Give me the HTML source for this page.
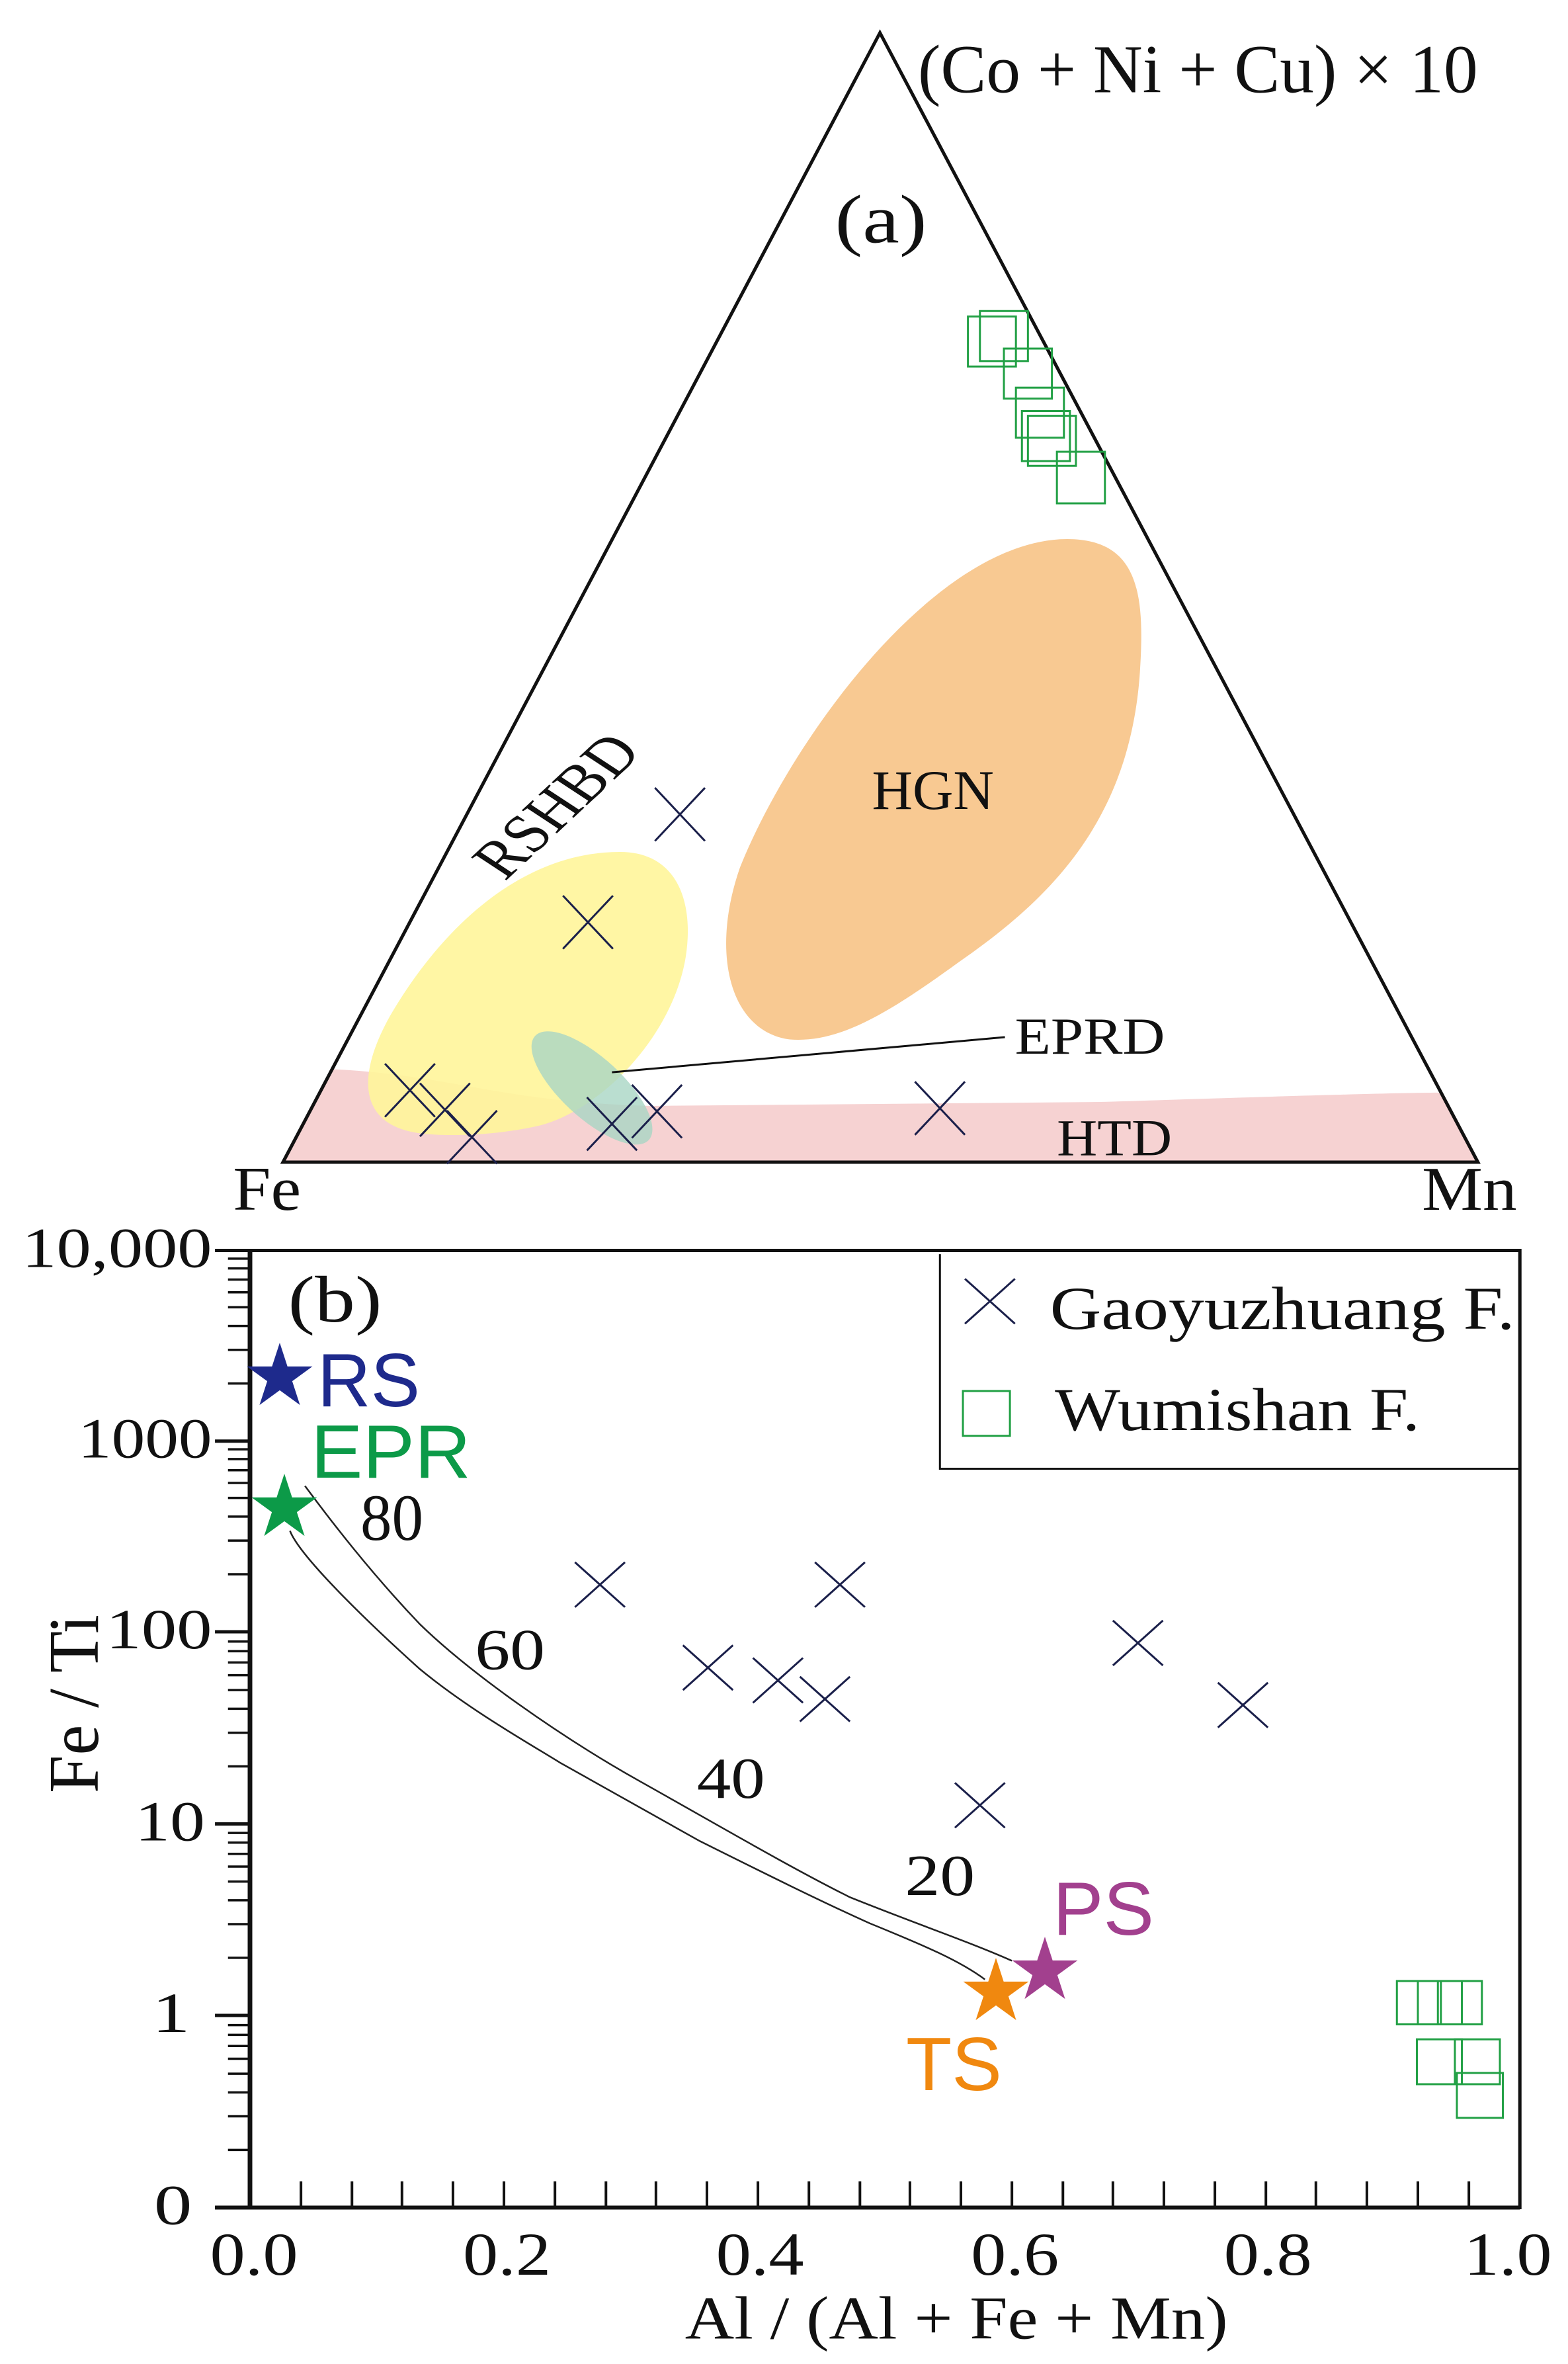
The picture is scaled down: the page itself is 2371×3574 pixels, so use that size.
<!DOCTYPE html>
<html><head><meta charset="utf-8"><style>
html,body{margin:0;padding:0;background:#fff}
svg{display:block}
text{font-family:"Liberation Serif",serif;fill:#111}
.s{font-family:"Liberation Sans",sans-serif}
</style></head><body>
<svg width="2371" height="3574" viewBox="0 0 2371 3574" xmlns="http://www.w3.org/2000/svg">
<defs>
<path id="star" d="M0,-52 L11.67,-16.07 L49.45,-16.07 L18.89,6.14 L30.56,42.07 L0,19.86 L-30.56,42.07 L-18.89,6.14 L-49.45,-16.07 L-11.67,-16.07Z"/>
</defs>
<rect width="2371" height="3574" fill="#fff"/>

<g transform="scale(1.512,1.1816)">
  <path d="M332,1368 C450,1375 500,1410 650,1415 L1100,1410 C1300,1402 1400,1398 1440,1398 L1478,1487 L283,1487 Z" fill="#f6d2d2"/>
  <path d="M790,1330 C730,1320 710,1220 740,1110 C790,950 930,700 1060,690 C1140,685 1145,760 1140,860 C1130,1050 1050,1150 960,1230 C890,1295 840,1335 790,1330 Z" fill="#f8c992"/>
  <path d="M420,1450 C360,1440 355,1380 390,1300 C440,1190 520,1090 620,1090 C680,1090 695,1160 685,1230 C670,1330 600,1420 540,1440 C500,1452 450,1455 420,1450 Z" fill="#fff59a" fill-opacity="0.9"/>
  <ellipse cx="592" cy="1392" rx="88" ry="34" transform="rotate(52 592 1392)" fill="#a9d6c4" fill-opacity="0.8"/>
  <path d="M880,42 L283,1487 L1478,1487 Z" fill="none" stroke="#111" stroke-width="5" vector-effect="non-scaling-stroke" stroke-linejoin="miter"/>
  <line x1="612" y1="1372" x2="1005" y2="1327" stroke="#111" stroke-width="3" vector-effect="non-scaling-stroke"/>
  <g fill="none" stroke="#22a045" stroke-width="3">
    <rect x="968" y="405" width="48" height="64" vector-effect="non-scaling-stroke"/>
    <rect x="980" y="398" width="48" height="64" vector-effect="non-scaling-stroke"/>
    <rect x="1004" y="446" width="48" height="64" vector-effect="non-scaling-stroke"/>
    <rect x="1016" y="496" width="48" height="64" vector-effect="non-scaling-stroke"/>
    <rect x="1022" y="526" width="48" height="64" vector-effect="non-scaling-stroke"/>
    <rect x="1028" y="532" width="48" height="64" vector-effect="non-scaling-stroke"/>
    <rect x="1057" y="578" width="48" height="66" vector-effect="non-scaling-stroke"/>
  </g>
  <path stroke="#1a1f4a" stroke-width="3" fill="none" vector-effect="non-scaling-stroke" d="M655,1008 L705,1076 M705,1008 L655,1076
      M563,1146 L613,1214 M613,1146 L563,1214
      M385,1361 L435,1429 M435,1361 L385,1429
      M420,1386 L470,1454 M470,1386 L420,1454
      M447,1421 L497,1489 M497,1421 L447,1489
      M587,1404 L637,1472 M637,1404 L587,1472
      M632,1388 L682,1456 M682,1388 L632,1456
      M915,1384 L965,1452 M965,1384 L915,1452"/>
  <text x="918" y="118" font-size="88" textLength="560" lengthAdjust="spacingAndGlyphs">(Co + Ni + Cu) × 10</text>
  <text x="835" y="310" font-size="88" textLength="92" lengthAdjust="spacingAndGlyphs">(a)</text>
  <text x="872" y="1035" font-size="72" textLength="122" lengthAdjust="spacingAndGlyphs">HGN</text>
  <text x="0" y="0" font-size="70" textLength="215" lengthAdjust="spacingAndGlyphs" transform="translate(505,1128) rotate(-50)">RSHBD</text>
  <text x="1015" y="1348" font-size="66" textLength="150" lengthAdjust="spacingAndGlyphs">EPRD</text>
  <text x="1057" y="1478" font-size="66" textLength="115" lengthAdjust="spacingAndGlyphs">HTD</text>
  <text x="233" y="1548" font-size="80" textLength="68" lengthAdjust="spacingAndGlyphs">Fe</text>
  <text x="1422" y="1548" font-size="80" textLength="95" lengthAdjust="spacingAndGlyphs">Mn</text>
</g>

<g transform="translate(0,1800) scale(1.512,1.1305)">
  <path d="M250,80 H1520 V1360 H250 Z" fill="none" stroke="#111" stroke-width="5" vector-effect="non-scaling-stroke"/>
  <line x1="250" y1="80" x2="250" y2="1360" stroke="#111" stroke-width="7" vector-effect="non-scaling-stroke"/>
  <line x1="215" y1="1360" x2="1520" y2="1360" stroke="#111" stroke-width="6" vector-effect="non-scaling-stroke"/>
  <path d="M215,80 H250 M215,335 H250 M215,590 H250 M215,847 H250 M215,1103 H250 M215,1360 H250" stroke="#111" stroke-width="5" vector-effect="non-scaling-stroke"/>
  <path vector-effect="non-scaling-stroke" stroke="#111" stroke-width="3.5" d="
  M228,1283H250M228,1238H250M228,1206H250M228,1181H250M228,1161H250M228,1144H250M228,1129H250M228,1116H250
  M228,1026H250M228,981H250M228,949H250M228,924H250M228,904H250M228,887H250M228,872H250M228,859H250
  M228,770H250M228,725H250M228,693H250M228,668H250M228,648H250M228,631H250M228,616H250M228,603H250
  M228,513H250M228,468H250M228,436H250M228,411H250M228,391H250M228,374H250M228,359H250M228,346H250
  M228,258H250M228,213H250M228,181H250M228,156H250M228,136H250M228,119H250M228,104H250M228,91H250"/>
  <path vector-effect="non-scaling-stroke" stroke="#111" stroke-width="4" d="
  M301,1325V1360M352,1325V1360M402,1325V1360M453,1325V1360M504,1325V1360M555,1325V1360M606,1325V1360M656,1325V1360
  M707,1325V1360M758,1325V1360M809,1325V1360M860,1325V1360M910,1325V1360M961,1325V1360M1012,1325V1360M1063,1325V1360
  M1113,1325V1360M1164,1325V1360M1215,1325V1360M1266,1325V1360M1316,1325V1360M1367,1325V1360M1418,1325V1360M1469,1325V1360"/>
  <path d="M940,85 V372 H1520" fill="none" stroke="#111" stroke-width="3" vector-effect="non-scaling-stroke"/>
  <g fill="none" stroke="#222" stroke-width="2.5">
    <path vector-effect="non-scaling-stroke" d="M305,395 C330,440 370,510 420,580 C470,645 560,730 640,790 C720,850 790,905 850,945 C915,980 970,1005 1012,1030"/>
    <path vector-effect="non-scaling-stroke" d="M290,455 C300,490 370,580 420,640 C470,695 530,740 560,765 C620,810 660,840 700,870 C760,910 820,950 870,980 C925,1010 960,1030 985,1055"/>
  </g>
  <path vector-effect="non-scaling-stroke" stroke="#1a1f4a" stroke-width="3" fill="none" d="
  M575,497 L625,557 M625,497 L575,557
  M815,497 L865,557 M865,497 L815,557
  M683,608 L733,668 M733,608 L683,668
  M753,625 L803,685 M803,625 L753,685
  M800,650 L850,710 M850,650 L800,710
  M955,792 L1005,852 M1005,792 L955,852
  M1113,575 L1163,635 M1163,575 L1113,635
  M1218,658 L1268,718 M1268,658 L1218,718
  M965,118 L1015,178 M1015,118 L965,178"/>
  <g fill="none" stroke="#22a045" stroke-width="3">
    <rect vector-effect="non-scaling-stroke" x="1397" y="1057" width="44" height="58"/>
    <rect vector-effect="non-scaling-stroke" x="1418" y="1057" width="44" height="58"/>
    <rect vector-effect="non-scaling-stroke" x="1438" y="1057" width="44" height="58"/>
    <rect vector-effect="non-scaling-stroke" x="1417" y="1135" width="45" height="60"/>
    <rect vector-effect="non-scaling-stroke" x="1455" y="1135" width="45" height="60"/>
    <rect vector-effect="non-scaling-stroke" x="1457" y="1180" width="46" height="60"/>
    <rect vector-effect="non-scaling-stroke" x="963" y="268" width="47" height="60"/>
  </g>
  <g font-size="76">
    <text x="212" y="102" text-anchor="end" textLength="190" lengthAdjust="spacingAndGlyphs">10,000</text>
    <text x="212" y="357" text-anchor="end" textLength="134" lengthAdjust="spacingAndGlyphs">1000</text>
    <text x="212" y="612" text-anchor="end" textLength="106" lengthAdjust="spacingAndGlyphs">100</text>
    <text x="205" y="869" text-anchor="end" textLength="70" lengthAdjust="spacingAndGlyphs">10</text>
    <text x="190" y="1125" text-anchor="end">1</text>
    <text x="192" y="1382" text-anchor="end">0</text>
  </g>
  <g font-size="82">
    <text x="210" y="1450" textLength="88" lengthAdjust="spacingAndGlyphs">0.0</text>
    <text x="463" y="1450" textLength="88" lengthAdjust="spacingAndGlyphs">0.2</text>
    <text x="716" y="1450" textLength="88" lengthAdjust="spacingAndGlyphs">0.4</text>
    <text x="971" y="1450" textLength="88" lengthAdjust="spacingAndGlyphs">0.6</text>
    <text x="1224" y="1450" textLength="88" lengthAdjust="spacingAndGlyphs">0.8</text>
    <text x="1464" y="1450" textLength="88" lengthAdjust="spacingAndGlyphs">1.0</text>
    <text x="685" y="1535" textLength="543" lengthAdjust="spacingAndGlyphs">Al / (Al + Fe + Mn)</text>
    <text x="1050" y="185" textLength="465" lengthAdjust="spacingAndGlyphs">Gaoyuzhuang F.</text>
    <text x="1055" y="320" textLength="365" lengthAdjust="spacingAndGlyphs">Wumishan F.</text>
    <text x="288" y="175" font-size="88" textLength="94" lengthAdjust="spacingAndGlyphs">(b)</text>
    <text x="475" y="640" font-size="78" textLength="70" lengthAdjust="spacingAndGlyphs">60</text>
    <text x="697" y="812" font-size="78" textLength="68" lengthAdjust="spacingAndGlyphs">40</text>
    <text x="905" y="942" font-size="78" textLength="70" lengthAdjust="spacingAndGlyphs">20</text>
  </g>
</g>

<text x="0" y="0" font-size="108" textLength="270" lengthAdjust="spacingAndGlyphs" text-anchor="middle" transform="translate(148,2576) rotate(-90)">Fe / Ti</text>
<text x="545" y="2328" font-size="100" textLength="95" lengthAdjust="spacingAndGlyphs">80</text>

<use href="#star" x="423" y="2082" fill="#1e2a8c"/>
<use href="#star" x="430" y="2280" fill="#0c9a48"/>
<use href="#star" x="1580" y="2980" fill="#a2408e"/>
<use href="#star" x="1506" y="3012" fill="#f0880f"/>

<text class="s" x="480" y="2126" font-size="114" style="fill:#1e2a8c" textLength="155" lengthAdjust="spacingAndGlyphs">RS</text>
<text class="s" x="470" y="2234" font-size="114" style="fill:#0c9a48" textLength="242" lengthAdjust="spacingAndGlyphs">EPR</text>
<text class="s" x="1592" y="2925" font-size="114" style="fill:#a2408e" textLength="153" lengthAdjust="spacingAndGlyphs">PS</text>
<text class="s" x="1370" y="3160" font-size="114" style="fill:#f0880f" textLength="145" lengthAdjust="spacingAndGlyphs">TS</text>
</svg>
</body></html>
